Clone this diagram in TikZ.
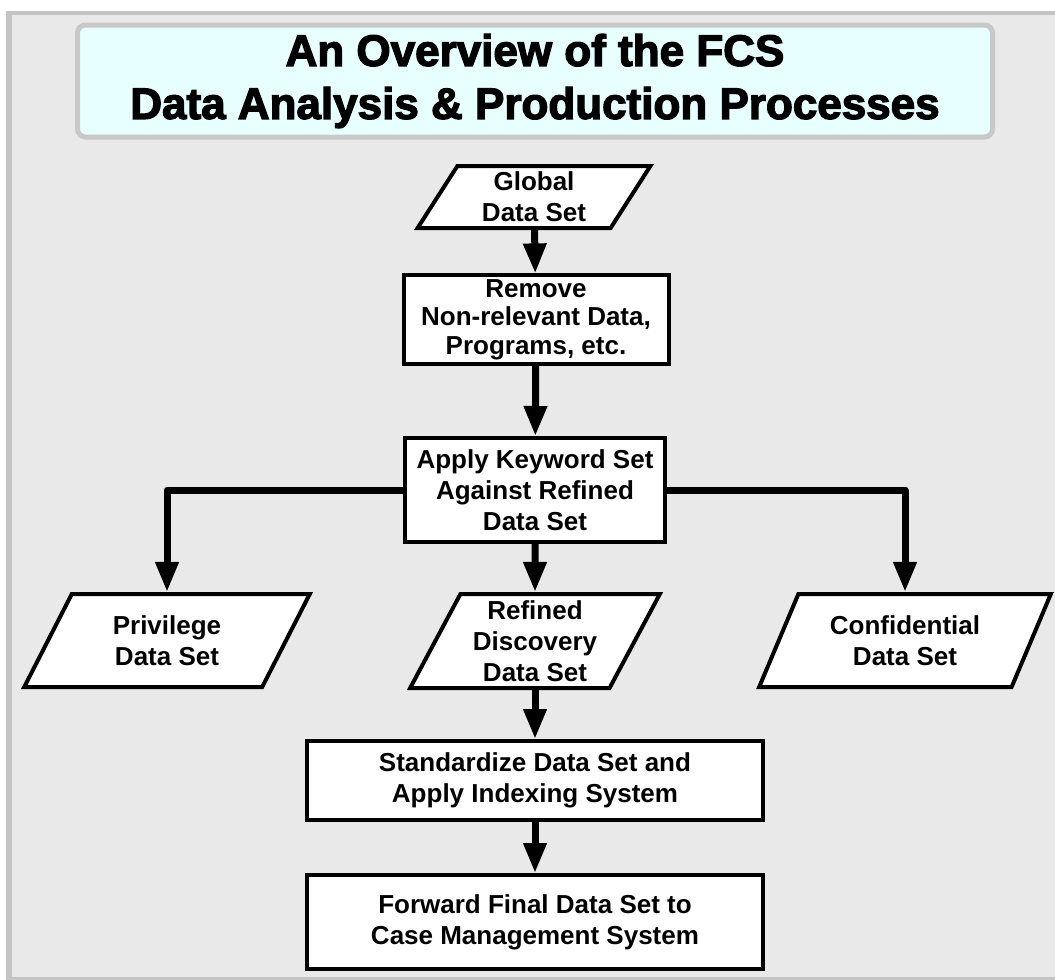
\documentclass[tikz,border=0pt]{standalone}
\usepackage{fontspec}
\setmainfont{Liberation Sans}
\newfontfamily\headfont{Liberation Sans}[BoldFeatures={FakeBold=3}]
\usetikzlibrary{shapes.geometric,arrows.meta}

\definecolor{framegray}{HTML}{C4C4C4}
\definecolor{panelgray}{HTML}{E9E9E9}
\definecolor{titlecyan}{HTML}{E8FFFF}
\definecolor{titleedge}{HTML}{C8C8C8}

\tikzset{
	procbox/.style={draw, fill=white, line width=2pt, align=center, inner sep=2pt,
		font=\fontsize{13}{15.5}\selectfont\bfseries},
	databox/.style={procbox, trapezium, trapezium left angle=63.4,
		trapezium right angle=116.6, trapezium stretches},
	flow/.style={line width=3.5pt, line cap=round, line join=round,
		-{Triangle[width=11pt,length=15pt]}}
}

\begin{document}
\begin{tikzpicture}[x=0.5pt,y=-0.5pt]
	\useasboundingbox (0,0) rectangle (1055,980);
	\fill[framegray] (6,11) rectangle (1055,980);
	\fill[panelgray] (12,15) rectangle (1055,977);

	\node (title) [draw=titleedge, fill=titlecyan, line width=2.5pt, rounded corners=4pt,
		minimum width=457.5pt, minimum height=56pt, align=center,
		font=\headfont\fontsize{22}{26.5}\selectfont\bfseries] at (535,81)
		{An Overview of the FCS\\Data Analysis \& Production Processes};

	\node (glob) [databox, minimum width=117pt, minimum height=31pt] at (534,197) {Global\\Data Set};
	\node (remove) [procbox, minimum width=132.5pt, minimum height=40.5pt,
		font=\fontsize{13}{14.2}\selectfont\bfseries] at (536,319.5)
		{Remove\\Non-relevant Data,\\Programs, etc.};
	\node (apply) [procbox, minimum width=130pt, minimum height=52pt] at (535,490)
		{Apply Keyword Set\\Against Refined\\Data Set};
	\node (priv) [databox, minimum width=143.5pt, minimum height=46.5pt] at (167,640.5) {Privilege\\Data Set};
	\node (refined) [databox, minimum width=125pt, minimum height=47pt] at (535,641)
		{Refined\\Discovery\\Data Set};
	\node (conf) [databox, minimum width=146pt, minimum height=46.5pt] at (905,640.5) {Confidential\\Data Set};
	\node (std) [procbox, minimum width=228pt, minimum height=39.5pt] at (535,780.5)
		{Standardize Data Set and\\Apply Indexing System};
	\node (fwd) [procbox, minimum width=228pt, minimum height=47pt] at (535,922)
		{Forward Final Data Set to\\Case Management System};

	\path[flow]
	(glob) edge (remove)
	(remove) edge (apply)
	(apply) edge (refined)
	(refined) edge (std)
	(std) edge (fwd);
	\draw[flow] (apply.west) -| (priv.north);
	\draw[flow] (apply.east) -| (conf.north);

\end{tikzpicture}
\end{document}
